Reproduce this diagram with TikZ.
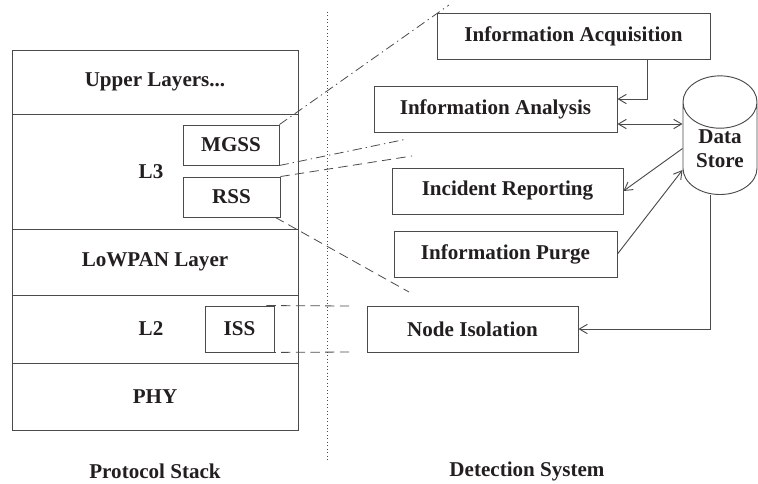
\documentclass[tikz,border=0pt]{standalone}
\usepackage{fontspec}
\setmainfont{Liberation Serif}
\usetikzlibrary{arrows.meta,calc,shapes.geometric}
\definecolor{linegray}{RGB}{75,75,75}
\definecolor{textdark}{RGB}{35,31,32}

\begin{document}
\begin{tikzpicture}[
  x=0.75pt, y=-0.75pt,
  every node/.style={font=\fontsize{15.8}{18}\selectfont\bfseries, text=textdark},
  layer/.style={draw=linegray, line width=0.7pt, minimum width=214.5pt, inner sep=0pt, outer sep=0pt},
  box/.style={draw=linegray, line width=0.7pt, minimum height=34.5pt, inner sep=0pt, fill=white},
  sub/.style={draw=linegray, line width=0.7pt, minimum height=30pt, inner sep=0pt, fill=white},
  arr/.style={-{Straight Barb[length=6pt,width=7pt]}, linegray, line width=0.7pt},
  dbl/.style={{Straight Barb[length=6pt,width=7pt]}-{Straight Barb[length=6pt,width=7pt]}, linegray, line width=0.7pt},
  link/.style={linegray, line width=0.6pt, dash pattern=on 7pt off 4pt},
  linkdot/.style={linegray, line width=0.6pt, dash pattern=on 7pt off 3pt on 1pt off 3pt},
]

%% Page frame
\useasboundingbox (0,0) rectangle (758,483);

%% ---- Protocol stack ----
\node[layer, minimum height=48pt]    (upper)  at (155,82)    {Upper Layers...};
\node[layer, minimum height=86.25pt] (l3)     at (155,171.5) {\hspace*{-6pt}L3};
\node[layer, minimum height=49.5pt]  (lowpan) at (155,262)   {LoWPAN Layer};
\node[layer, minimum height=51pt]    (l2)     at (155,329)   {\hspace*{-6pt}L2};
\node[layer, minimum height=50.25pt] (phy)    at (155,396.5) {PHY};

% security sub-blocks
\node[sub, minimum width=72pt]    (mgss) at (231,145)   {MGSS};
\node[sub, minimum width=72.75pt] (rss)  at (231.5,197) {RSS};
\node[box, minimum width=51.75pt] (iss)  at (239.5,329) {ISS};

%% Divider
\coordinate (divtop) at (327,12);
\coordinate (divbot) at (327,460);
\draw[linegray, line width=0.6pt, dotted] (divtop) -- (divbot);

%% ---- Detection system ----
\node[box, minimum width=204.75pt] (acq)   at (573.5,36.5) {Information Acquisition};
\node[box, minimum width=182.25pt] (ana)   at (495.5,109)  {Information Analysis};
\node[box, minimum width=173.25pt] (inc)   at (507.5,191)  {Incident Reporting};
\node[box, minimum width=167.25pt] (purge) at (505.5,254)  {Information Purge};
\node[box, minimum width=158.25pt] (iso)   at (472.5,329)  {Node Isolation};

\node[cylinder, shape border rotate=90, aspect=1.1, draw=linegray, line width=0.7pt,
      minimum width=55.5pt, minimum height=89pt, inner sep=0pt, align=center]
  (store) at (720,148.5) {Data\\Store};

%% Data flow
\draw[arr] ($(acq.south)+(73.5,0)$) |- ($(ana.east)+(0,-10)$);
\coordinate (anaout) at ($(ana.east)+(0,15)$);
\draw[dbl] (anaout) -- (anaout -| store.180);
\draw[arr] (store.180) -- (inc.east);
\draw[arr] (purge.east) -- ($(store.180)+(0,21.5)$);
\draw[arr] ($(store.south)+(-10,0)$) |- (iso.east);

%% Mapping lines (stack -> detection)
\coordinate (mgssfar) at (449,5);
\coordinate (mgssnear) at (407,139);
\coordinate (rssnear) at (412,156);
\coordinate (rssfar) at (409,292);
\coordinate (issup) at (350,306);
\coordinate (isslow) at (350,352);
\draw[linkdot] (mgss.north east) -- (mgssfar);
\draw[linkdot] (mgss.south east) -- (mgssnear);
\draw[link] (rss.north east) -- (rssnear);
\draw[link] ($(rss.south east)+(-5,0)$) -- (rssfar);
\draw[link] ($(iss.north east)+(-8,0)$) -- (issup);
\draw[link] ($(iss.south east)+(-8,0)$) -- (isslow);

%% Captions
\node (capstack) at (155,471) {Protocol Stack};
\node (capdet)   at (527,471) {Detection System};

\end{tikzpicture}
\end{document}
